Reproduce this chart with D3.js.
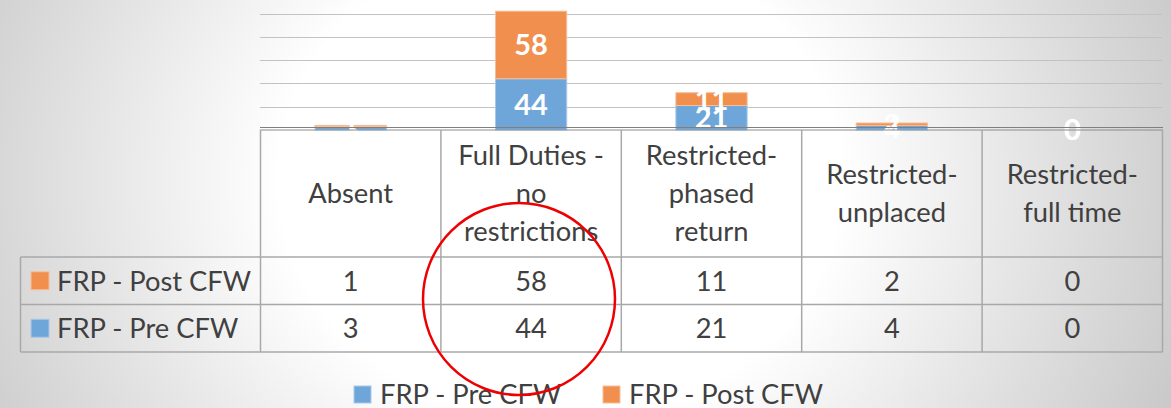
<!DOCTYPE html>
<html>
<head>
<meta charset="utf-8">
<script src="https://cdn.jsdelivr.net/npm/d3@7"></script>
<style>
  body { margin: 0; padding: 0; overflow: hidden; }
  svg { display: block; }
</style>
</head>
<body>
<svg id="chart" width="1171" height="408"></svg>
<script>
// data
const categories = ["Absent", "Full Duties - no restrictions", "Restricted-phased return", "Restricted-unplaced", "Restricted-full time"];
const seriesNames = ["FRP - Pre CFW", "FRP - Post CFW"];
const preCFW = [3, 44, 21, 4, 0];
const postCFW = [1, 58, 11, 2, 0];
const yTicks = [0, 20, 40, 60, 80, 100];

const colors = { "FRP - Pre CFW": "#6fa6da", "FRP - Post CFW": "#f08f4e" };
const borders = { "FRP - Pre CFW": "#a9c9ea", "FRP - Post CFW": "#f7bf99" };
const font = "Lato, 'Open Sans', sans-serif";
const textColor = "#404040";

const svg = d3.select("#chart");
const W = 1171, H = 408;

// background gradient
const defs = svg.append("defs");
const grad = defs.append("radialGradient")
    .attr("id", "bg")
    .attr("gradientUnits", "userSpaceOnUse")
    .attr("cx", 0).attr("cy", 0).attr("r", 1)
    .attr("gradientTransform", "translate(560,180) scale(700,600)");
grad.append("stop").attr("offset", "0").attr("stop-color", "#ffffff");
grad.append("stop").attr("offset", "0.4").attr("stop-color", "#ffffff");
grad.append("stop").attr("offset", "1").attr("stop-color", "#c4c4c4");
svg.append("rect").attr("width", W).attr("height", H).attr("fill", "url(#bg)");

// rows of the table, top one is the last series (like excel does)
const rows = [
    { name: "FRP - Post CFW", values: postCFW },
    { name: "FRP - Pre CFW", values: preCFW }
];

const x = d3.scaleBand().domain(categories).range([260.5, 1162.5]).padding(0);
const y = d3.scaleLinear().domain([0, 100]).range([130, 13.5]);
const barW = x.bandwidth() * 0.395;

// gridlines
svg.append("g")
    .selectAll("line")
    .data(yTicks.filter(d => d > 0))
    .enter().append("line")
    .attr("x1", 260).attr("x2", 1162)
    .attr("y1", d => Math.round(y(d)) + 0.5)
    .attr("y2", d => Math.round(y(d)) + 0.5)
    .attr("stroke", "#c2c2c2")
    .attr("stroke-width", 1);

// stacked bars
const table = categories.map((c, i) => ({ cat: c, "FRP - Pre CFW": preCFW[i], "FRP - Post CFW": postCFW[i] }));
const stacked = d3.stack().keys(seriesNames)(table);

const layer = svg.append("g").selectAll("g")
    .data(stacked)
    .enter().append("g")
    .attr("fill", d => colors[d.key])
    .attr("stroke", d => borders[d.key]);

layer.selectAll("rect")
    .data(d => d)
    .enter().append("rect")
    .attr("x", d => x(d.data.cat) + (x.bandwidth() - barW) / 2)
    .attr("y", d => y(d[1]))
    .attr("width", barW)
    .attr("height", d => y(d[0]) - y(d[1]))
    .attr("stroke-width", 1);

// axis line (double)
svg.append("line").attr("x1", 260).attr("x2", 1163).attr("y1", 127.5).attr("y2", 127.5)
    .attr("stroke", "#7f7f7f").attr("stroke-width", 1);
svg.append("line").attr("x1", 260).attr("x2", 1163).attr("y1", 130).attr("y2", 130)
    .attr("stroke", "#8c8c8c").attr("stroke-width", 1.2);

// data labels
layer.selectAll("text")
    .data(d => d)
    .enter().append("text")
    .attr("x", d => x(d.data.cat) + x.bandwidth() / 2)
    .attr("y", d => (y(d[0]) + y(d[1])) / 2)
    .attr("dy", "0.36em")
    .attr("text-anchor", "middle")
    .attr("fill", "#ffffff")
    .attr("stroke", "none")
    .attr("font-family", font)
    .attr("font-weight", "bold")
    .attr("font-size", "29px")
    .text(d => d[1] - d[0]);

// data table
const headTop = 130, headBottom = 257, rowH = 47.5;
const tableBottom = headBottom + rowH * rows.length;
const grid = svg.append("g").attr("stroke", "#a8a8a8").attr("stroke-width", 1.5);

const colEdges = categories.map(c => x(c)).concat([x(categories[categories.length - 1]) + x.bandwidth()]);
grid.selectAll("line.v")
    .data(colEdges)
    .enter().append("line")
    .attr("x1", d => d).attr("x2", d => d)
    .attr("y1", headTop).attr("y2", tableBottom);
grid.append("line").attr("x1", 20.5).attr("x2", 20.5).attr("y1", headBottom).attr("y2", tableBottom);
grid.selectAll("line.h")
    .data(d3.range(rows.length + 1))
    .enter().append("line")
    .attr("x1", 20.5).attr("x2", 1162.5)
    .attr("y1", i => headBottom + i * rowH)
    .attr("y2", i => headBottom + i * rowH);

// header text, wrapped to the column width
function wrapLabel(label, maxW, size) {
    const tokens = [];
    label.split(" ").forEach(w => {
        const parts = w.split(/(?<=-)(?=.)/);
        parts.forEach((p, k) => tokens.push({ t: p, space: k === 0 }));
    });
    const probe = svg.append("text").attr("font-family", font).attr("font-size", size).attr("visibility", "hidden");
    const lines = [];
    let cur = "";
    tokens.forEach(tok => {
        const trial = cur === "" ? tok.t : cur + (tok.space ? " " : "") + tok.t;
        probe.text(trial);
        if (cur !== "" && probe.node().getComputedTextLength() > maxW) {
            lines.push(cur);
            cur = tok.t;
        } else {
            cur = trial;
        }
    });
    if (cur !== "") lines.push(cur);
    probe.remove();
    return lines;
}

const headSize = 27.3, lineH = 38;
categories.forEach(c => {
    const lines = wrapLabel(c, x.bandwidth() - 14, headSize + "px");
    const cy = (headTop + headBottom) / 2;
    const t = svg.append("text")
        .attr("text-anchor", "middle")
        .attr("font-family", font)
        .attr("font-size", headSize + "px")
        .attr("fill", textColor);
    lines.forEach((ln, k) => {
        t.append("tspan")
            .attr("x", x(c) + x.bandwidth() / 2)
            .attr("y", cy + (k - (lines.length - 1) / 2) * lineH)
            .attr("dy", "0.36em")
            .text(ln);
    });
});

// rows: legend key + values
rows.forEach((r, i) => {
    const cy = headBottom + i * rowH + rowH / 2;
    svg.append("rect")
        .attr("x", 31).attr("y", cy - 9)
        .attr("width", 18).attr("height", 18)
        .attr("fill", colors[r.name]).attr("stroke", borders[r.name]).attr("stroke-width", 1);
    svg.append("text")
        .attr("x", 57).attr("y", cy).attr("dy", "0.36em")
        .attr("font-family", font).attr("font-size", headSize + "px")
        .attr("fill", textColor)
        .text(r.name);
    svg.append("g").selectAll("text")
        .data(r.values)
        .enter().append("text")
        .attr("x", (d, j) => x(categories[j]) + x.bandwidth() / 2)
        .attr("y", cy).attr("dy", "0.36em")
        .attr("text-anchor", "middle")
        .attr("font-family", font).attr("font-size", headSize + "px")
        .attr("fill", textColor)
        .text(d => d);
});

// bottom legend
const legendX = [354, 603];
seriesNames.forEach((s, i) => {
    svg.append("rect")
        .attr("x", legendX[i]).attr("y", 386)
        .attr("width", 17).attr("height", 17)
        .attr("fill", colors[s]).attr("stroke", borders[s]).attr("stroke-width", 1);
    svg.append("text")
        .attr("x", legendX[i] + 26).attr("y", 394.5).attr("dy", "0.36em")
        .attr("font-family", font).attr("font-size", headSize + "px")
        .attr("fill", textColor)
        .text(s);
});

// red circle annotation
svg.append("ellipse")
    .attr("cx", 519).attr("cy", 299)
    .attr("rx", 96).attr("ry", 96)
    .attr("fill", "none")
    .attr("stroke", "#ee0000")
    .attr("stroke-width", 2.5);
</script>
</body>
</html>
